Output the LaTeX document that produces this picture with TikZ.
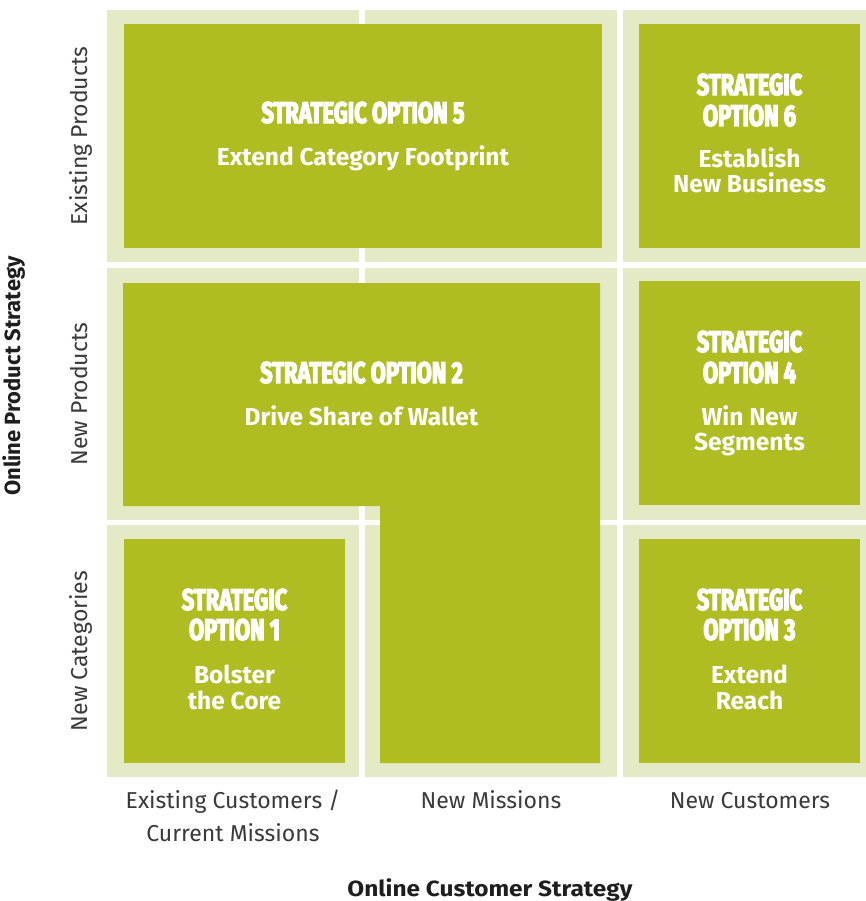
\documentclass[tikz,border=0pt]{standalone}
\usepackage{fontspec}
\setmainfont{Fira Sans}
\newfontfamily\titlefont[FakeStretch=0.73,FakeBold=4]{Fira Sans}
\newfontfamily\widefont[FakeStretch=1.11]{Fira Sans}
\definecolor{optgreen}{RGB}{175,188,34}
\definecolor{cellbeige}{RGB}{228,233,198}
\definecolor{axgray}{RGB}{58,58,58}
\definecolor{axblack}{RGB}{30,30,30}
\tikzset{
  cellbox/.style={fill=cellbeige,draw=none},
  optbox/.style={fill=optgreen,draw=none},
  ttl/.style={anchor=base,inner sep=0pt,text=white,font=\titlefont\bfseries\fontsize{30}{30}\selectfont},
  sub/.style={anchor=base,inner sep=0pt,text=white,font=\bfseries\fontsize{24.5}{24.5}\selectfont},
  axl/.style={anchor=base,inner sep=0pt,text=axgray,font=\fontsize{23}{23}\selectfont},
  axt/.style={anchor=base,inner sep=0pt,text=axblack,font=\bfseries\fontsize{22}{22}\selectfont}
}
\begin{document}
\begin{tikzpicture}[x=1pt,y=-1pt]
\useasboundingbox (0,0) rectangle (866,901);
\fill[white] (0,0) rectangle (866,901);
% beige cells
\path[cellbox] (107,10) rectangle (359,262);
\path[cellbox] (365,10) rectangle (617,262);
\path[cellbox] (623,10) rectangle (866,262);
\path[cellbox] (107,268) rectangle (359,520);
\path[cellbox] (365,268) rectangle (617,520);
\path[cellbox] (623,268) rectangle (866,520);
\path[cellbox] (107,525) rectangle (359,777);
\path[cellbox] (365,525) rectangle (617,777);
\path[cellbox] (623,525) rectangle (866,777);
% green option boxes
\path[optbox] (124,24) rectangle (602,248);
\path[optbox] (639,24) rectangle (860,248);
\path[optbox] (123,283) -- (600,283) -- (600,763) -- (380,763) -- (380,506) -- (123,506) -- cycle;
\path[optbox] (639,281) rectangle (860,505);
\path[optbox] (124,539) rectangle (345,763);
\path[optbox] (639,539) rectangle (860,763);
% option 5
\node[ttl] (o5t) at (363,123) {STRATEGIC OPTION 5};
\node[sub] (o5s) at (363,166) {Extend Category Footprint};
% option 6
\node[ttl] (o6a) at (749.5,95) {STRATEGIC};
\node[ttl] (o6b) at (749.5,126) {OPTION 6};
\node[sub] (o6c) at (749.5,168) {Establish};
\node[sub] (o6d) at (749.5,193) {New Business};
% option 2
\node[ttl] (o2t) at (361.5,383) {STRATEGIC OPTION 2};
\node[sub] (o2s) at (361.5,425) {Drive Share of Wallet};
% option 4
\node[ttl] (o4a) at (749.5,352) {STRATEGIC};
\node[ttl] (o4b) at (749.5,383) {OPTION 4};
\node[sub] (o4c) at (749.5,425) {Win New};
\node[sub] (o4d) at (749.5,450) {Segments};
% option 1
\node[ttl] (o1a) at (234.5,610) {STRATEGIC};
\node[ttl] (o1b) at (234.5,640) {OPTION 1};
\node[sub] (o1c) at (234.5,683) {Bolster};
\node[sub] (o1d) at (234.5,709) {the Core};
% option 3
\node[ttl] (o3a) at (749.5,610) {STRATEGIC};
\node[ttl] (o3b) at (749.5,640) {OPTION 3};
\node[sub] (o3c) at (749.5,683) {Extend};
\node[sub] (o3d) at (749.5,709) {Reach};
% column labels
\node[axl] (c1a) at (233,808) {Existing Customers /};
\node[axl] (c1b) at (233,841) {Current Missions};
\node[axl] (c2) at (491,808) {New Missions};
\node[axl] (c3) at (750,808) {New Customers};
\node[axt,font=\widefont\bfseries\fontsize{22}{22}\selectfont] (xt) at (490,896) {Online Customer Strategy};
% row labels
\node[axl,rotate=90] (r1) at (87,136) {Existing Products};
\node[axl,rotate=90] (r2) at (87,394) {New Products};
\node[axl,rotate=90] (r3) at (87,651) {New Categories};
\node[axt,rotate=90] (yt) at (20,376) {Online Product Strategy};
\end{tikzpicture}
\end{document}
